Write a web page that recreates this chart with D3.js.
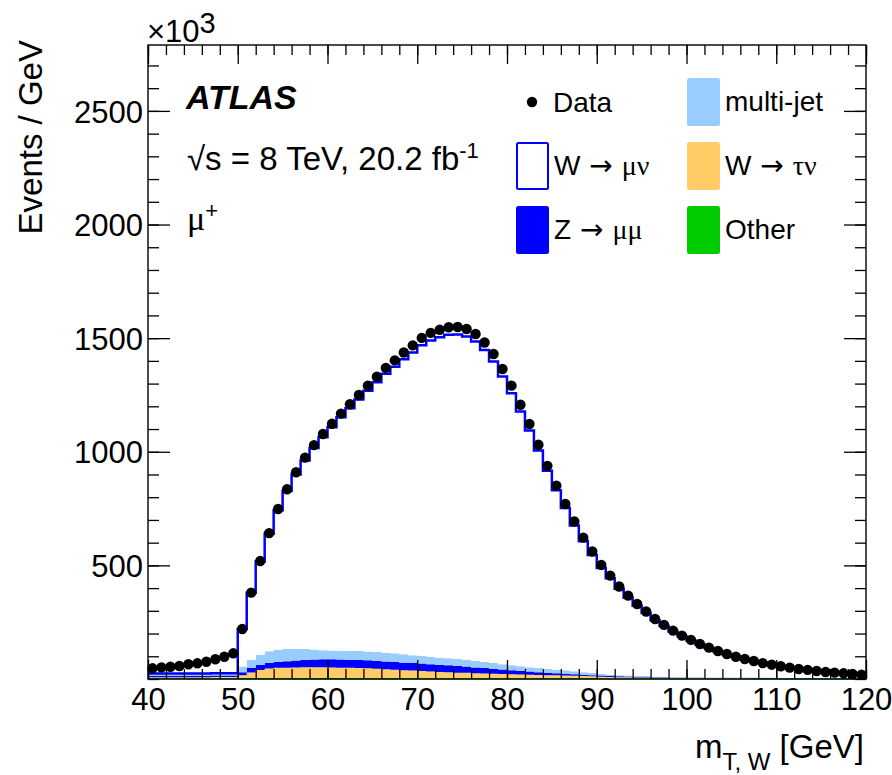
<!DOCTYPE html>
<html>
<head>
<meta charset="utf-8">
<script src="https://cdn.jsdelivr.net/npm/d3@7"></script>
<style>
  body { margin: 0; background: #fff; }
  text { font-family: "Liberation Sans", Arial, Helvetica, sans-serif; fill: #000; }
  .greek { font-family: "Liberation Serif", "DejaVu Serif", serif; }
  .arrow { font-family: "DejaVu Sans", "Liberation Sans", sans-serif; }
</style>
</head>
<body>
<div id="drawing"></div>
<script>
// ---- data, in thousands of events / GeV, 1 GeV bins from 40 to 120 ----
const binEdges = d3.range(40, 120); // lower edge of each bin

const dataPoints = [
  47, 51, 54, 57, 65, 69, 76, 87, 98, 113,
  220, 380, 519, 642, 748, 835, 910, 974, 1029, 1078,
  1123, 1168, 1209, 1250, 1291, 1330, 1369, 1402, 1437, 1468,
  1501, 1523, 1537, 1548, 1549, 1540, 1518, 1481, 1430, 1364,
  1291, 1207, 1122, 1031, 938, 851, 770, 693, 622, 561,
  502, 455, 407, 367, 330, 297, 264, 238, 213, 191,
  172, 154, 138, 123, 110, 98, 88, 79, 70, 63,
  56, 50, 44, 40, 35, 31, 28, 25, 22, 19
];

const wMuNu = [
  2, 2, 2, 2, 2, 2, 2, 2, 2, 2,
  165, 296, 410, 517, 614, 694, 767, 830, 887, 937,
  983, 1028, 1068, 1107, 1148, 1187, 1227, 1261, 1298, 1332,
  1367, 1392, 1410, 1424, 1428, 1422, 1406, 1373, 1327, 1266,
  1198, 1121, 1042, 958, 872, 790, 714, 641, 576, 520,
  466, 424, 380, 343, 309, 277, 248, 223, 200, 179,
  161, 144, 129, 114, 102, 90, 80, 72, 64, 57,
  52, 46, 40, 36, 31, 27, 24, 21, 18, 15
];

const multiJet = [
  8, 8, 8, 8, 8, 8, 8, 8, 8, 8,
  25, 35, 45, 52, 54, 55, 52, 48, 44, 40,
  38, 38, 38, 39, 39, 39, 39, 38, 37, 35,
  34, 33, 32, 31, 31, 30, 28, 27, 25, 23,
  21, 20, 19, 18, 17, 16, 15, 13, 11, 9,
  7, 6, 5, 4, 3, 3, 2, 2, 2, 2,
  1, 1, 1, 1, 1, 1, 1, 1, 1, 1,
  1, 1, 1, 1, 1, 1, 1, 1, 1, 1
];

const zMuMu = [
  6, 6, 6, 6, 6, 6, 6, 6, 6, 6,
  14, 20, 22, 24, 26, 28, 30, 32, 34, 35,
  36, 36, 36, 36, 35, 35, 34, 34, 33, 33,
  33, 32, 31, 30, 29, 28, 26, 24, 22, 20,
  18, 16, 14, 12, 10, 9, 8, 7, 6, 5,
  5, 4, 4, 3, 3, 3, 2, 2, 2, 2,
  2, 2, 2, 2, 2, 2, 2, 2, 2, 2,
  1, 1, 1, 1, 1, 1, 1, 1, 1, 1
];

const wTauNu = [
  5, 5, 5, 5, 5, 5, 5, 6, 6, 6,
  12, 25, 36, 42, 45, 46, 47, 48, 48, 48,
  47, 46, 45, 44, 43, 41, 39, 37, 35, 33,
  32, 30, 28, 27, 25, 24, 22, 21, 20, 19,
  18, 17, 16, 15, 14, 13, 12, 11, 10, 9,
  8, 7, 6, 6, 5, 5, 4, 4, 3, 3,
  3, 3, 2, 2, 2, 2, 2, 1, 1, 1,
  1, 1, 1, 1, 1, 1, 1, 1, 1, 1
];

const other = [
  3, 3, 3, 3, 3, 3, 3, 3, 3, 3,
  4, 4, 4, 4, 4, 4, 4, 4, 4, 4,
  4, 4, 4, 4, 4, 4, 4, 4, 4, 4,
  3, 3, 3, 3, 3, 3, 3, 3, 3, 3,
  3, 3, 3, 3, 3, 3, 3, 3, 3, 3,
  2, 2, 2, 2, 2, 2, 2, 2, 2, 2,
  2, 2, 2, 2, 2, 2, 2, 2, 2, 2,
  1, 1, 1, 1, 1, 1, 1, 1, 1, 1
];

const xTicks = [40, 50, 60, 70, 80, 90, 100, 110, 120];
const yTicks = [500, 1000, 1500, 2000, 2500];

// stack order, bottom to top
const stackKeys = ["other", "wTauNu", "zMuMu", "multiJet", "wMuNu"];
const stackColors = {
  other: "#00cc00",
  wTauNu: "#ffcc66",
  zMuMu: "#0000ff",
  multiJet: "#99ccff",
  wMuNu: "#ffffff"
};

const width = 892;
const height = 775;
const plot = {left: 148, right: 866, top: 45, bottom: 679};
let svg;
let xScale;
let yScale;

function setup(){
  svg = d3.select("#drawing").append("svg")
    .attr("width", width)
    .attr("height", height)
    .style("background", "#fff");

  xScale = d3.scaleLinear().domain([40, 120]).range([plot.left, plot.right]);
  yScale = d3.scaleLinear().domain([0, 2790]).range([plot.bottom, plot.top]);
}

function make(){
  // table for the stack; one extra row closes the last bin at 120
  const rows = binEdges.map((e, i) => ({
    edge: e,
    other: other[i], wTauNu: wTauNu[i], zMuMu: zMuMu[i],
    multiJet: multiJet[i], wMuNu: wMuNu[i]
  }));
  rows.push(Object.assign({}, rows[rows.length - 1], {edge: 120}));

  const series = d3.stack().keys(stackKeys)(rows);

  const area = d3.area()
    .curve(d3.curveStepAfter)
    .x(d => xScale(d.data.edge))
    .y0(d => yScale(d[0]))
    .y1(d => yScale(d[1]));

  svg.append("g").selectAll("path")
    .data(series)
    .join("path")
      .attr("d", area)
      .attr("fill", d => stackColors[d.key])
      .attr("stroke", d => d.key === "other" ? "#009900" : "none")
      .attr("stroke-width", 1);

  // outline of the full stack (W -> mu nu on top)
  const top = series[series.length - 1];
  svg.append("path")
    .attr("d", d3.line()
      .curve(d3.curveStepAfter)
      .x(d => xScale(d.data.edge))
      .y(d => yScale(d[1]))(top))
    .attr("fill", "none")
    .attr("stroke", "#0000ff")
    .attr("stroke-width", 2.5);

  drawAxes();

  // data points
  svg.append("g").selectAll("circle")
    .data(dataPoints)
    .join("circle")
      .attr("cx", (d, i) => xScale(binEdges[i] + 0.5))
      .attr("cy", d => yScale(d))
      .attr("r", 5.2)
      .attr("fill", "#000");

  drawTexts();
  drawLegend();
}

function drawAxes(){
  const minorX = d3.range(40, 121, 2);
  const minorY = d3.range(0, 2790, 100);

  const styleAxis = g => {
    g.select(".domain").remove();
    g.selectAll("line").attr("stroke", "#000").attr("stroke-width", 1.3);
  };

  // bottom
  svg.append("g")
    .attr("transform", `translate(0,${plot.bottom})`)
    .call(d3.axisBottom(xScale).tickValues(minorX).tickSize(-10).tickFormat(""))
    .call(styleAxis);
  svg.append("g")
    .attr("transform", `translate(0,${plot.bottom})`)
    .call(d3.axisBottom(xScale).tickValues(xTicks).tickSize(-19).tickPadding(0).tickFormat(d3.format("d")))
    .call(styleAxis)
    .call(g => g.selectAll("text")
      .attr("y", 31)
      .attr("dy", 0)
      .style("font-size", "31px")
      .style("font-family", "Liberation Sans, Arial, sans-serif")
      .attr("fill", "#000"));

  // top
  svg.append("g")
    .attr("transform", `translate(0,${plot.top})`)
    .call(d3.axisTop(xScale).tickValues(minorX).tickSize(-10).tickFormat(""))
    .call(styleAxis);
  svg.append("g")
    .attr("transform", `translate(0,${plot.top})`)
    .call(d3.axisTop(xScale).tickValues(xTicks).tickSize(-19).tickFormat(""))
    .call(styleAxis);

  // left
  svg.append("g")
    .attr("transform", `translate(${plot.left},0)`)
    .call(d3.axisLeft(yScale).tickValues(minorY).tickSize(-11).tickFormat(""))
    .call(styleAxis);
  svg.append("g")
    .attr("transform", `translate(${plot.left},0)`)
    .call(d3.axisLeft(yScale).tickValues(yTicks).tickSize(-22).tickPadding(0).tickFormat(d3.format("d")))
    .call(styleAxis)
    .call(g => g.selectAll("text")
      .attr("x", -5)
      .attr("dy", "0.36em")
      .style("font-size", "31px")
      .style("font-family", "Liberation Sans, Arial, sans-serif")
      .attr("fill", "#000"));

  // right
  svg.append("g")
    .attr("transform", `translate(${plot.right},0)`)
    .call(d3.axisRight(yScale).tickValues(minorY).tickSize(-11).tickFormat(""))
    .call(styleAxis);
  svg.append("g")
    .attr("transform", `translate(${plot.right},0)`)
    .call(d3.axisRight(yScale).tickValues(yTicks).tickSize(-22).tickFormat(""))
    .call(styleAxis);

  // frame
  svg.append("rect")
    .attr("x", plot.left)
    .attr("y", plot.top)
    .attr("width", plot.right - plot.left)
    .attr("height", plot.bottom - plot.top)
    .attr("fill", "none")
    .attr("stroke", "#000")
    .attr("stroke-width", 1.4);
}

function drawTexts(){
  // x10^3 multiplier
  const mult = svg.append("text").attr("x", 147).attr("y", 42).style("font-size", "31px");
  mult.append("tspan").text("\u00d710");
  mult.append("tspan").attr("dy", -9).style("font-size", "29px").text("3");

  // y title
  svg.append("text")
    .attr("transform", `translate(42,${plot.top - 5}) rotate(-90)`)
    .attr("text-anchor", "end")
    .style("font-size", "33px")
    .text("Events / GeV");

  // x title
  const xt = svg.append("text")
    .attr("x", 864).attr("y", 758)
    .attr("text-anchor", "end")
    .style("font-size", "33px");
  xt.append("tspan").text("m");
  xt.append("tspan").attr("dy", 12).style("font-size", "24px").text("T, W");
  xt.append("tspan").attr("dy", -12).text(" [GeV]");

  // ATLAS label
  svg.append("text")
    .attr("x", 186).attr("y", 109)
    .style("font-size", "34px")
    .style("font-weight", "bold")
    .style("font-style", "italic")
    .text("ATLAS");

  const lumi = svg.append("text")
    .attr("x", 187).attr("y", 170)
    .style("font-size", "33px");
  lumi.append("tspan").text("\u221as = 8 TeV, 20.2 fb");
  lumi.append("tspan").attr("dy", -12).style("font-size", "22px").text("-1");

  const chan = svg.append("text")
    .attr("x", 187).attr("y", 230)
    .style("font-size", "34px");
  chan.append("tspan").attr("class", "greek").text("\u03bc");
  chan.append("tspan").attr("dy", -12).style("font-size", "22px").text("+");
}

function drawLegend(){
  const boxW = 31;
  const boxH = 46;

  // Data entry
  svg.append("circle").attr("cx", 532).attr("cy", 102).attr("r", 5.2).attr("fill", "#000");
  svg.append("text").attr("x", 553).attr("y", 112).style("font-size", "28px").text("Data");

  const entries = [
    {x: 517, y: 143, fill: "#ffffff", stroke: "#0000ff", name: "W", greek: "\u03bc\u03bd"},
    {x: 517, y: 207, fill: "#0000ff", stroke: "#0000ff", name: "Z", greek: "\u03bc\u03bc"},
    {x: 688, y: 79, fill: "#99ccff", stroke: "#99ccff", name: "multi-jet", greek: null},
    {x: 688, y: 143, fill: "#ffcc66", stroke: "#ffcc66", name: "W", greek: "\u03c4\u03bd"},
    {x: 688, y: 207, fill: "#00cc00", stroke: "#00cc00", name: "Other", greek: null}
  ];

  const g = svg.append("g");
  g.selectAll("rect")
    .data(entries)
    .join("rect")
      .attr("x", d => d.x)
      .attr("y", d => d.y)
      .attr("width", boxW)
      .attr("height", boxH)
      .attr("rx", 1.5)
      .attr("fill", d => d.fill)
      .attr("stroke", d => d.stroke)
      .attr("stroke-width", 2);

  const t = g.selectAll("text")
    .data(entries)
    .join("text")
      .attr("x", d => d.x + boxW + 6)
      .attr("y", d => d.y + 32)
      .style("font-size", "28px");
  t.append("tspan").text(d => d.name);
  t.filter(d => d.greek).append("tspan").attr("class", "arrow").text(" \u2192 ");
  t.filter(d => d.greek).append("tspan").attr("class", "greek").text(d => d.greek);
}

setup();
make();
</script>
</body>
</html>
